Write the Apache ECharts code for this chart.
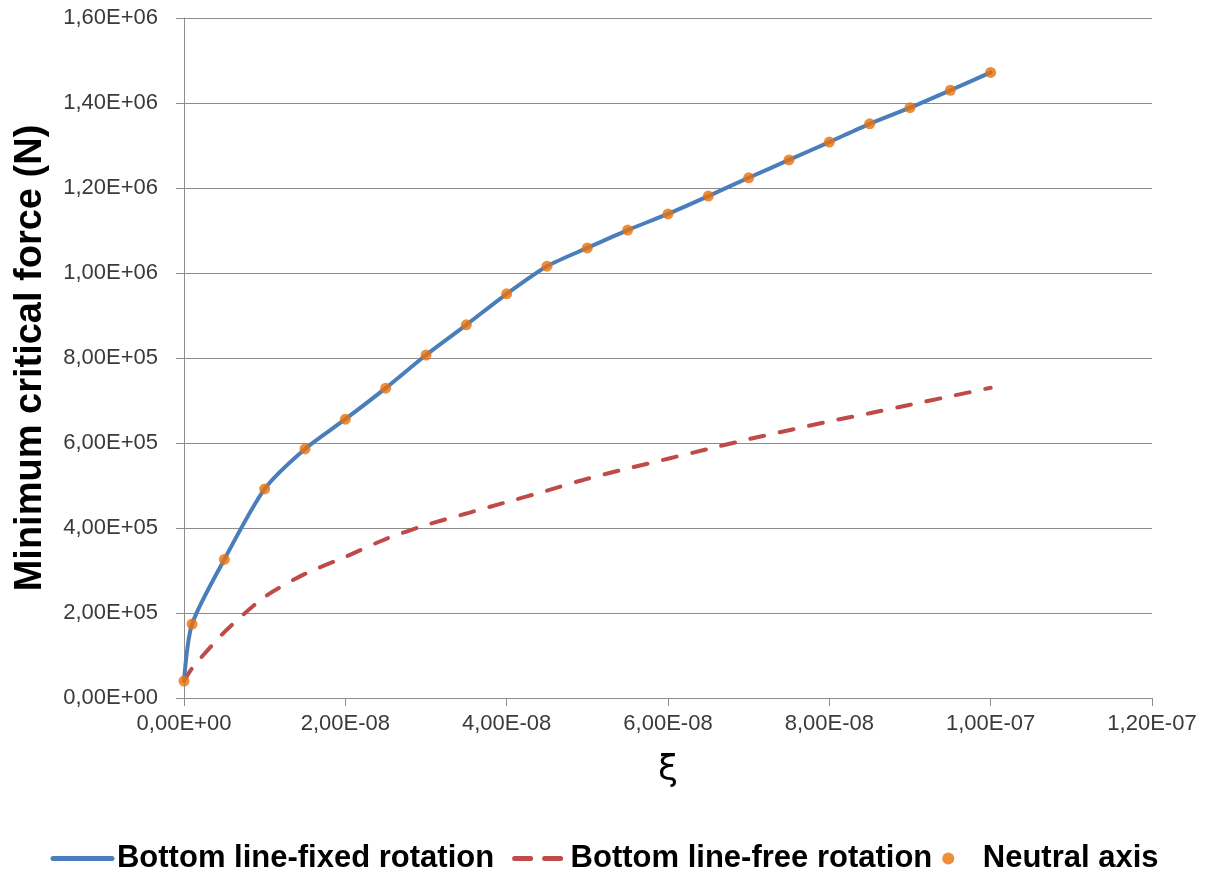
<!DOCTYPE html>
<html>
<head>
<meta charset="utf-8">
<script src="https://cdn.jsdelivr.net/npm/echarts@6/dist/echarts.min.js"></script>
<style>
  html, body { margin: 0; padding: 0; background: #ffffff; }
  #chart { width: 1209px; height: 876px; }
</style>
</head>
<body>
<div id="chart"></div>
<script>
// ξ values
const xi = [0, 1e-9, 5e-9, 10e-9, 15e-9, 20e-9, 25e-9, 30e-9, 35e-9, 40e-9, 45e-9, 50e-9,
            55e-9, 60e-9, 65e-9, 70e-9, 75e-9, 80e-9, 85e-9, 90e-9, 95e-9, 100e-9];
// Minimum critical force (N)
const fixedRotation = [40000, 174000, 326000, 492000, 586000, 656000, 729000, 807000, 878000,
                       951000, 1016000, 1059000, 1101000, 1139000, 1181000, 1224000, 1266000,
                       1308000, 1351000, 1389000, 1430000, 1472000];
const freeRotation = [40000, 70000, 155000, 238000, 292000, 332000, 374000, 407000, 434000,
                      461000, 488000, 516000, 540000, 563000, 586000, 609000, 630000, 651000,
                      670000, 690000, 710000, 730000];
const neutralAxis = [40000, 174000, 326000, 492000, 586000, 656000, 729000, 807000, 878000,
                     951000, 1016000, 1059000, 1101000, 1139000, 1181000, 1224000, 1266000,
                     1308000, 1351000, 1389000, 1430000, 1472000];
const seriesNames = ['Bottom line-fixed rotation', 'Bottom line-free rotation', 'Neutral axis'];
const xTitle = 'ξ';
const yTitle = 'Minimum critical force (N)';

function fmtE(v) {
  if (Math.abs(v) < 1e-20) v = 0;
  let s = Number(v).toExponential(2); // e.g. 2.00e-8
  let [m, e] = s.split('e');
  let sign = e[0] === '-' ? '-' : '+';
  let ex = e.replace(/^[+-]/, '');
  if (ex.length < 2) ex = '0' + ex;
  return m.replace('.', ',') + 'E' + sign + ex;
}

const pairs = (xs, ys) => xs.map((x, i) => [x, ys[i]]);

const chart = echarts.init(document.getElementById('chart'), null, { renderer: 'canvas' });
const gridColor = '#8c8c8c';
const labelFont = { fontFamily: 'Liberation Sans, Arial, sans-serif', fontSize: 22, color: '#3a3a3a' };

chart.setOption({
  animation: false,
  backgroundColor: '#ffffff',
  grid: { left: 184, right: 57, top: 18, bottom: 178, containLabel: false },
  xAxis: {
    type: 'value',
    min: 0, max: 1.2e-7, interval: 2e-8,
    name: xTitle, nameLocation: 'middle', nameGap: 55,
    nameTextStyle: { fontFamily: 'DejaVu Sans, sans-serif', fontSize: 36, color: '#000' },
    axisLine: { show: true, lineStyle: { color: gridColor, width: 1 } },
    axisTick: { show: true, length: 8, lineStyle: { color: gridColor } },
    axisLabel: Object.assign({ margin: 15, formatter: fmtE }, labelFont),
    splitLine: { show: false }
  },
  yAxis: {
    type: 'value',
    min: 0, max: 1.6e6, interval: 2e5,
    name: yTitle, nameLocation: 'middle', nameGap: 134,
    nameTextStyle: { fontFamily: 'Liberation Sans, Arial, sans-serif', fontSize: 38, fontWeight: 'bold', color: '#000' },
    axisLine: { show: true, lineStyle: { color: gridColor, width: 1 } },
    axisTick: { show: true, length: 8, lineStyle: { color: gridColor } },
    axisLabel: Object.assign({ margin: 26, formatter: fmtE }, labelFont),
    splitLine: { show: true, lineStyle: { color: gridColor, width: 1 } }
  },
  legend: {
    bottom: -3, left: 'center',
    itemWidth: 59, itemHeight: 12, itemGap: 10,
    textStyle: { fontFamily: 'Liberation Sans, Arial, sans-serif', fontSize: 31, fontWeight: 'bold', color: '#000' },
    data: [
      { name: seriesNames[0], itemStyle: { opacity: 0 }, lineStyle: { width: 5 } },
      { name: seriesNames[1], itemStyle: { opacity: 0 }, lineStyle: { width: 5, type: [16, 14], dashOffset: -8 } },
      { name: seriesNames[2], icon: 'circle' }
    ]
  },
  series: [
    {
      name: seriesNames[0], type: 'line', data: pairs(xi, fixedRotation),
      symbol: 'none', smooth: 0.25, z: 3,
      lineStyle: { color: '#4a7ebb', width: 4, cap: 'round', join: 'round' },
      itemStyle: { color: '#4a7ebb' }
    },
    {
      name: seriesNames[1], type: 'line', data: pairs(xi, freeRotation),
      symbol: 'none', smooth: 0.25, z: 2,
      lineStyle: { color: '#be4b48', width: 4, type: [14, 16], cap: 'round' },
      itemStyle: { color: '#be4b48' }
    },
    {
      name: seriesNames[2], type: 'scatter', data: pairs(xi, neutralAxis),
      symbol: 'circle', symbolSize: 11, z: 4,
      itemStyle: { color: '#e8720c' }
    }
  ]
});
</script>
</body>
</html>
